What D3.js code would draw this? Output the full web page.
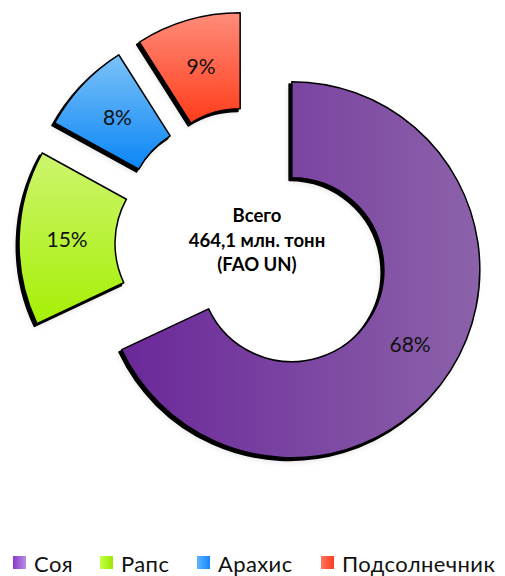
<!DOCTYPE html>
<html>
<head>
<meta charset="utf-8">
<script src="https://cdn.jsdelivr.net/npm/d3@7"></script>
<style>
  body { margin: 0; background: #fff; }
  svg { display: block; }
</style>
</head>
<body>
<div id="chart"></div>
<script>
// data
var categories = ["Соя", "Рапс", "Арахис", "Подсолнечник"];
var values = [68, 15, 8, 9];
var labels = ["68%", "15%", "8%", "9%"];
var centerLines = ["Всего", "464,1 млн. тонн", "(FAO UN)"];

var width = 505,
    height = 576;

// slice look (light, dark) and legend swatch look
var sliceColors = [["#6a2899", "#8c62aa"], ["#cdf56e", "#a5f005"], ["#7cc2f8", "#0a86f5"], ["#ff8c7a", "#ff3c1a"]];
var sliceDir = ["h", "v", "v", "v"];
var swatchColors = [["#8a3ad0", "#b98ee2"], ["#c4ff48", "#9be800"], ["#5fb4ff", "#1486fb"], ["#ff7660", "#ff3a1e"]];

var cx = 253, cy = 245, explode = 46;
var outerR = 188, innerR = 92;

var svg = d3.select("#chart").append("svg")
    .attr("width", width)
    .attr("height", height);

var defs = svg.append("defs");

sliceColors.forEach(function(c, i) {
  var g = defs.append("linearGradient")
      .attr("id", "grad" + i)
      .attr("x1", 0).attr("y1", 0)
      .attr("x2", sliceDir[i] == "h" ? 1 : 0)
      .attr("y2", sliceDir[i] == "h" ? 0 : 1);
  g.append("stop").attr("offset", "0%").attr("stop-color", c[0]);
  g.append("stop").attr("offset", "100%").attr("stop-color", c[1]);
});

swatchColors.forEach(function(c, i) {
  var g = defs.append("linearGradient")
      .attr("id", "sw" + i)
      .attr("x1", 0).attr("y1", 0).attr("x2", 1).attr("y2", 0);
  g.append("stop").attr("offset", "0%").attr("stop-color", c[0]);
  g.append("stop").attr("offset", "100%").attr("stop-color", c[1]);
});

var blur = defs.append("filter")
    .attr("id", "soft")
    .attr("x", "-20%").attr("y", "-20%")
    .attr("width", "140%").attr("height", "140%");
blur.append("feGaussianBlur").attr("stdDeviation", 3);

var pie = d3.pie().sort(null).value(function(d) { return d; });
var arcs = pie(values);

var arc = d3.arc().innerRadius(innerR).outerRadius(outerR);

var root = svg.append("g")
    .attr("transform", "translate(" + cx + "," + cy + ")");

var slices = root.selectAll("g.slice")
    .data(arcs)
    .enter().append("g")
    .attr("class", "slice")
    .attr("transform", function(d) {
      var a = (d.startAngle + d.endAngle) / 2;
      return "translate(" + (Math.sin(a) * explode) + "," + (-Math.cos(a) * explode) + ")";
    });

// soft halo
slices.append("path")
    .attr("d", arc)
    .attr("fill", "#000")
    .attr("opacity", 0.12)
    .attr("transform", "translate(-3,4)")
    .attr("filter", "url(#soft)");

// hard dark shadow
slices.append("path")
    .attr("d", arc)
    .attr("fill", "#000")
    .attr("stroke", "#000")
    .attr("stroke-width", 2)
    .attr("stroke-linejoin", "round")
    .attr("transform", "translate(-2.5,2.5)");

slices.append("path")
    .attr("d", arc)
    .attr("fill", function(d, i) { return "url(#grad" + i + ")"; })
    .attr("stroke", "#000")
    .attr("stroke-width", 1.5)
    .attr("stroke-linejoin", "round");

slices.append("text")
    .attr("transform", function(d) { return "translate(" + arc.centroid(d) + ")"; })
    .attr("text-anchor", "middle")
    .attr("dy", "0.35em")
    .attr("font-family", "Lato, 'Open Sans', sans-serif")
    .attr("font-size", "21px")
    .attr("fill", "#111")
    .text(function(d, i) { return labels[i]; });

// center caption
svg.append("g").selectAll("text")
    .data(centerLines)
    .enter().append("text")
    .attr("x", 257)
    .attr("y", function(d, i) { return 222 + i * 24.5; })
    .attr("text-anchor", "middle")
    .attr("font-family", "Lato, 'Open Sans', sans-serif")
    .attr("font-weight", "bold")
    .attr("font-size", "18.5px")
    .attr("fill", "#000")
    .text(function(d) { return d; });

// legend
var legendX = [13, 100, 197, 321];
var legend = svg.append("g").selectAll("g")
    .data(categories)
    .enter().append("g")
    .attr("transform", function(d, i) { return "translate(" + legendX[i] + ",556)"; });

legend.append("rect")
    .attr("width", 13)
    .attr("height", 13)
    .attr("fill", function(d, i) { return "url(#sw" + i + ")"; });

legend.append("text")
    .attr("x", 21)
    .attr("y", 16)
    .attr("font-family", "Lato, 'Open Sans', sans-serif")
    .attr("font-size", "22px")
    .attr("letter-spacing", "0.4px")
    .attr("fill", "#111")
    .text(function(d) { return d; });
</script>
</body>
</html>
